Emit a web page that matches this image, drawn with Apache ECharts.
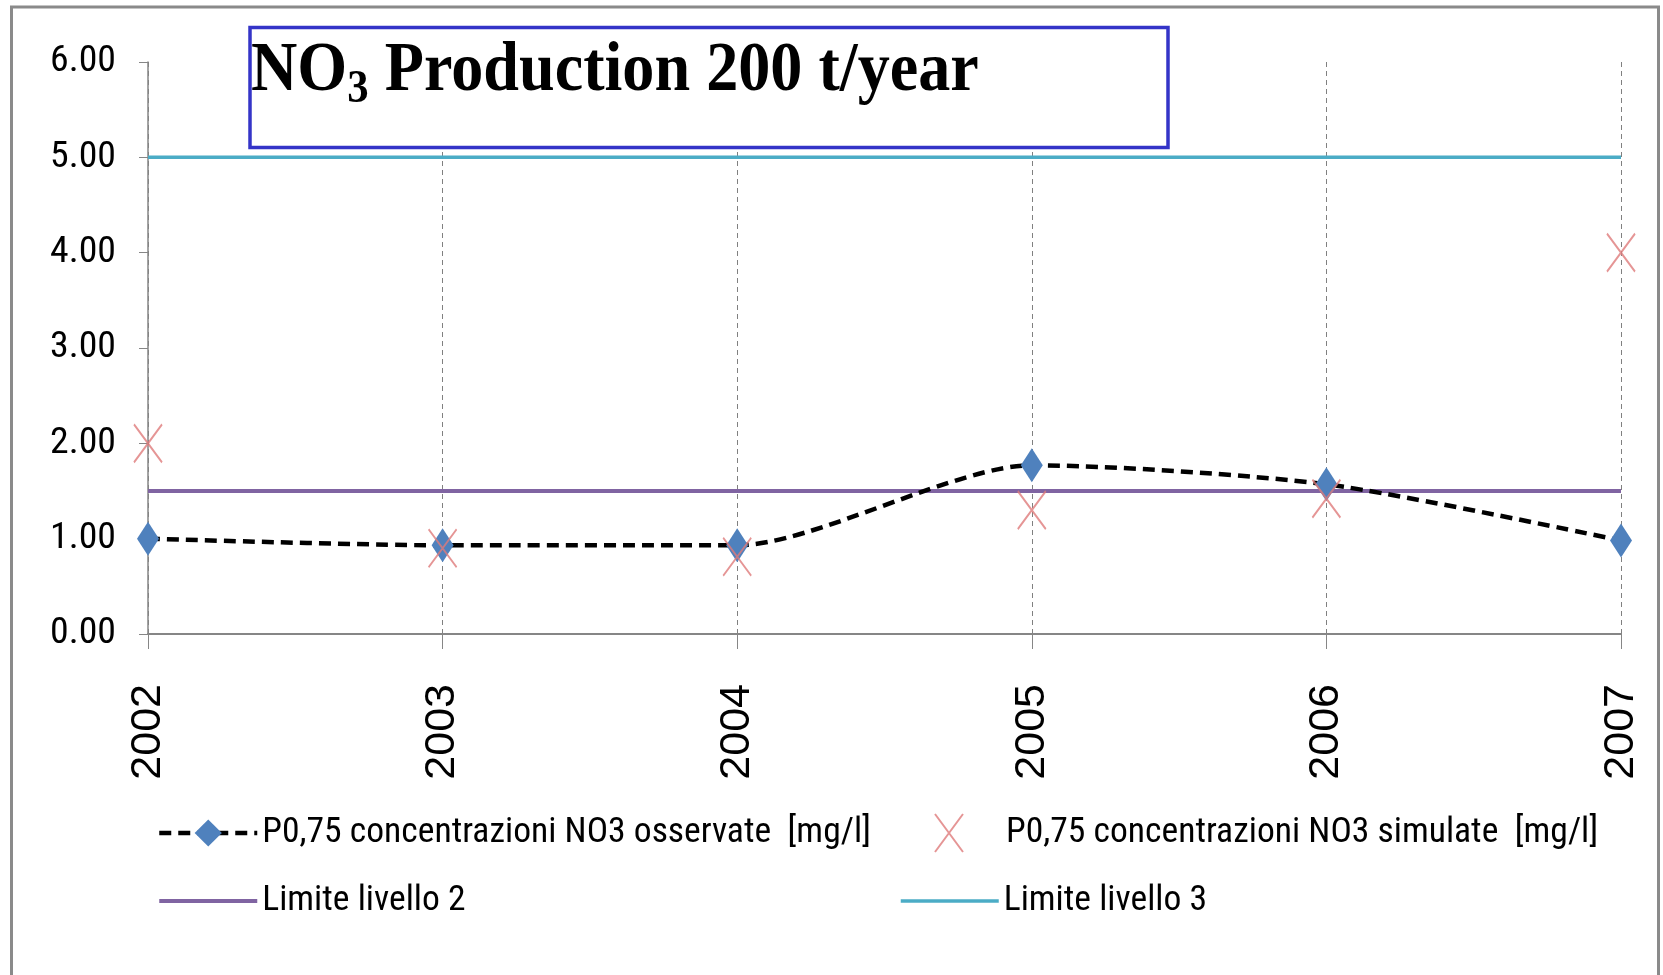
<!DOCTYPE html>
<html>
<head>
<meta charset="utf-8">
<script src="https://cdn.jsdelivr.net/npm/echarts@6/dist/echarts.min.js"></script>
<style>
  html, body { margin: 0; padding: 0; background: #ffffff; }
  #chart { width: 1663px; height: 975px; }
</style>
</head>
<body>
<div id="chart"></div>
<script>
// Years on the category axis
const years = ['2002', '2003', '2004', '2005', '2006', '2007'];

// P0,75 NO3 concentrations [mg/l]
const observed = [1.00, 0.93, 0.93, 1.77, 1.57, 0.98];
const simulated = [2.00, 0.90, 0.81, 1.30, 1.42, 4.00];

// Threshold levels
const limit2 = [1.5, 1.5, 1.5, 1.5, 1.5, 1.5];
const limit3 = [5.0, 5.0, 5.0, 5.0, 5.0, 5.0];

// Value axis range
const yMin = 0;
const yMax = 6;
const yStep = 1;

const names = {
  obs: 'P0,75 concentrazioni NO3 osservate  [mg/l]',
  sim: 'P0,75 concentrazioni NO3 simulate  [mg/l]',
  l2: 'Limite livello 2',
  l3: 'Limite livello 3'
};

// Pick a narrow sans face if one is installed, otherwise fall back to a regular one
const measureCtx = document.createElement('canvas').getContext('2d');
function fontAvailable(family) {
  const probe = 'mmmmmmmmmmlli0O,75';
  return ['monospace', 'serif'].some(base => {
    measureCtx.font = '72px ' + base;
    const w0 = measureCtx.measureText(probe).width;
    measureCtx.font = "72px '" + family + "', " + base;
    return measureCtx.measureText(probe).width !== w0;
  });
}
const narrowCandidates = ['Liberation Sans Narrow', 'Arial Narrow', 'Roboto Condensed',
  'DejaVu Sans Condensed', 'Noto Sans Condensed', 'Open Sans Condensed'];
const narrowFamily = narrowCandidates.find(fontAvailable) || 'Liberation Sans';
const narrow = "'" + narrowFamily + "', 'Liberation Sans', sans-serif";
const sans = "'Liberation Sans', Arial, sans-serif";
const serif = "'Liberation Serif', 'Times New Roman', serif";

// Font size that gives a text a given width, capped at a maximum
function fitSize(text, family, width, cap) {
  measureCtx.font = '100px ' + family;
  return Math.min(cap, Math.floor(100 * width / measureCtx.measureText(text).width * 10) / 10);
}
const legendSize = fitSize(names.obs, narrow, 610, 40);
const yLabelSize = fitSize('6.00', narrow, 66, 41);

const colors = {
  obsLine: '#000000',
  obsMark: '#4f81bd',
  sim: '#df7b7b',
  l2: '#8064a2',
  l3: '#4bacc6',
  axis: '#868686'
};

const crossPath = 'path://M0,0L28,38M28,0L0,38';

const chart = echarts.init(document.getElementById('chart'), null, { renderer: 'canvas' });

const legendText = { fontFamily: narrow, fontSize: legendSize, color: '#000', lineHeight: 40 };

chart.setOption({
  animation: false,
  backgroundColor: '#ffffff',
  grid: { left: 148, right: 42, top: 62, bottom: 341, containLabel: false },
  xAxis: {
    type: 'category',
    data: years,
    boundaryGap: false,
    axisLine: { lineStyle: { color: colors.axis, width: 2 } },
    axisTick: { show: true, length: 15, lineStyle: { color: colors.axis, width: 1 } },
    axisLabel: { rotate: 90, margin: 50, fontFamily: sans, fontSize: 43, color: '#000' },
    splitLine: { show: true, lineStyle: { color: '#808080', width: 1, type: [5, 4] } }
  },
  yAxis: {
    type: 'value',
    min: yMin,
    max: yMax,
    interval: yStep,
    axisLine: { show: true, lineStyle: { color: colors.axis, width: 1.5 } },
    axisTick: { show: true, length: 9, lineStyle: { color: colors.axis, width: 1 } },
    axisLabel: {
      margin: 32, fontFamily: narrow, fontSize: yLabelSize, color: '#000',
      formatter: v => v.toFixed(2)
    },
    splitLine: { show: false }
  },
  legend: [
    {
      orient: 'vertical', left: 157, top: 813, itemGap: 28,
      itemWidth: 98, itemHeight: 34, padding: 0,
      lineStyle: { width: 'inherit' },
      textStyle: legendText,
      data: [names.obs, { name: names.l2, itemStyle: { opacity: 0 } }]
    },
    {
      orient: 'vertical', left: 934, top: 813, padding: 0,
      itemWidth: 28, itemHeight: 38,
      itemStyle: { color: 'rgba(0,0,0,0)', borderColor: colors.sim, borderWidth: 2 },
      textStyle: Object.assign({}, legendText, { padding: [0, 0, 0, 38] }),
      data: [{ name: names.sim, icon: crossPath }]
    },
    {
      orient: 'vertical', left: 899, top: 881, padding: 0,
      itemWidth: 98, itemHeight: 34,
      lineStyle: { width: 'inherit' },
      textStyle: legendText,
      data: [{ name: names.l3, itemStyle: { opacity: 0 } }]
    }
  ],
  series: [
    {
      name: names.l3, type: 'line', data: limit3, symbol: 'none', z: 2,
      lineStyle: { color: colors.l3, width: 3.5 }, itemStyle: { color: colors.l3 }
    },
    {
      name: names.l2, type: 'line', data: limit2, symbol: 'none', z: 2,
      lineStyle: { color: colors.l2, width: 4 }, itemStyle: { color: colors.l2 }
    },
    {
      name: names.obs, type: 'line', data: observed, smooth: 0.25, z: 3,
      symbol: 'diamond', symbolSize: [22, 34],
      lineStyle: { color: colors.obsLine, width: 4.5, type: [12, 7] },
      itemStyle: { color: colors.obsMark }
    },
    {
      name: names.sim, type: 'scatter', data: simulated, z: 4,
      symbol: crossPath, symbolSize: [28, 38],
      itemStyle: { color: 'rgba(0,0,0,0)', borderColor: colors.sim, borderWidth: 2 }
    }
  ],
  graphic: [
    {
      type: 'rect', silent: true, z: 0,
      shape: { x: 11.5, y: 7, width: 1647, height: 1000 },
      style: { fill: 'none', stroke: '#8a8a8a', lineWidth: 3 }
    },
    {
      type: 'rect', silent: true, z: 10,
      shape: { x: 250, y: 27.5, width: 918, height: 120 },
      style: { fill: '#ffffff', stroke: '#3434c8', lineWidth: 3.5 }
    },
    {
      type: 'text', silent: true, z: 11,
      x: 251, y: 72, scaleX: 0.93, scaleY: 1,
      style: {
        text: '{b|NO}{s|3}{b| Production 200 t/year}',
        verticalAlign: 'middle', align: 'left',
        rich: {
          b: { fontFamily: serif, fontWeight: 'bold', fontSize: 69, fill: '#000', lineHeight: 72 },
          s: { fontFamily: serif, fontWeight: 'bold', fontSize: 46, fill: '#000', padding: [36, 0, 0, 0] }
        }
      }
    }
  ]
});
</script>
</body>
</html>
